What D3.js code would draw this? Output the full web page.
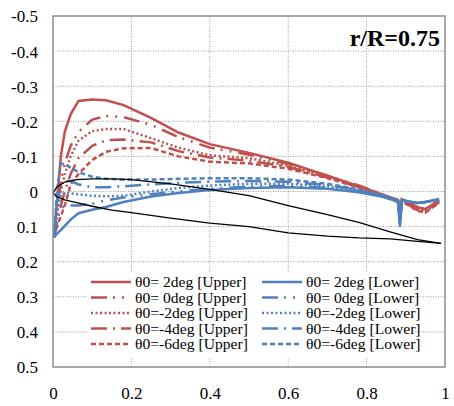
<!DOCTYPE html>
<html>
<head>
<meta charset="utf-8">
<script src="https://cdn.jsdelivr.net/npm/d3@7"></script>
<style>
  body { margin: 0; background: #fff; }
  svg text { font-family: "Liberation Serif", "Times New Roman", serif; fill: #000; }
</style>
</head>
<body>
<svg id="chart" width="454" height="406"></svg>
<script>
// chordwise stations shared by all pressure series
var xStations = [0.003, 0.01, 0.02, 0.03, 0.045, 0.065, 0.1, 0.135, 0.18, 0.25, 0.32, 0.4,
                 0.5, 0.6, 0.7, 0.78, 0.84, 0.88, 0.885, 0.89, 0.93, 0.95, 0.985];

// upper surface
var upper2  = [0.13, 0.03, -0.10, -0.17, -0.22, -0.258, -0.262, -0.26, -0.246, -0.21, -0.168, -0.135,
               -0.11, -0.082, -0.045, -0.015, 0.008, 0.024, 0.075, 0.022, 0.045, 0.05, 0.025];
var upper0  = [0.13, 0.06, -0.03, -0.08, -0.13, -0.17, -0.205, -0.215, -0.212, -0.19, -0.155, -0.125,
               -0.105, -0.078, -0.045, -0.017, 0.008, 0.025, 0.07, 0.023, 0.045, 0.052, 0.027];
var upperM2 = [0.13, 0.07, 0.0, -0.05, -0.10, -0.145, -0.172, -0.178, -0.178, -0.152, -0.125, -0.103,
               -0.095, -0.073, -0.042, -0.015, 0.01, 0.027, 0.07, 0.025, 0.05, 0.056, 0.028];
var upperM4 = [0.13, 0.09, 0.04, 0.0, -0.05, -0.095, -0.13, -0.146, -0.148, -0.14, -0.115, -0.097,
               -0.088, -0.07, -0.04, -0.013, 0.012, 0.03, 0.07, 0.027, 0.053, 0.06, 0.03];
var upperM6 = [0.13, 0.10, 0.07, 0.04, -0.02, -0.05, -0.09, -0.113, -0.123, -0.124, -0.10, -0.085,
               -0.08, -0.065, -0.038, -0.012, 0.012, 0.03, 0.065, 0.028, 0.055, 0.06, 0.032];

// lower surface
var lower2  = [0.13, 0.12, 0.11, 0.098, 0.08, 0.062, 0.052, 0.044, 0.03, 0.014, 0.004, -0.004,
               -0.01, -0.012, -0.008, 0.002, 0.015, 0.028, 0.10, 0.025, 0.033, 0.03, 0.022];
var lower0  = [0.13, 0.08, 0.05, 0.04, 0.04, 0.04, 0.035, 0.025, 0.017, 0.008, 0.0, -0.008,
               -0.014, -0.016, -0.01, 0.0, 0.013, 0.027, 0.095, 0.025, 0.033, 0.03, 0.022];
var lowerM2 = [0.13, 0.05, 0.01, 0.005, 0.005, 0.008, 0.012, 0.014, 0.012, 0.0, -0.01, -0.017,
               -0.022, -0.022, -0.015, -0.003, 0.012, 0.026, 0.09, 0.025, 0.033, 0.03, 0.023];
var lowerM4 = [0.13, 0.03, -0.02, -0.03, -0.03, -0.02, -0.012, -0.012, -0.015, -0.02, -0.025, -0.028,
               -0.03, -0.028, -0.018, -0.004, 0.012, 0.026, 0.09, 0.025, 0.033, 0.03, 0.023];
var lowerM6 = [0.13, 0.0, -0.08, -0.078, -0.068, -0.055, -0.042, -0.036, -0.034, -0.034, -0.036, -0.038,
               -0.038, -0.034, -0.022, -0.006, 0.01, 0.025, 0.088, 0.025, 0.033, 0.03, 0.024];

// blade section outline
var foilX     = [0, 0.01, 0.03, 0.06, 0.1, 0.15, 0.2, 0.3, 0.4, 0.5, 0.6, 0.7, 0.78, 0.86, 0.93, 0.99];
var foilUpper = [0.004, -0.013, -0.027, -0.034, -0.036, -0.036, -0.034, -0.022, -0.006, 0.012, 0.04, 0.066, 0.088, 0.115, 0.137, 0.148];
var foilLower = [0.004, 0.015, 0.024, 0.032, 0.042, 0.053, 0.06, 0.076, 0.09, 0.1, 0.118, 0.127, 0.132, 0.135, 0.142, 0.148];

var xTicks = [0, 0.2, 0.4, 0.6, 0.8, 1];
var yTicks = [-0.5, -0.4, -0.3, -0.2, -0.1, 0, 0.1, 0.2, 0.3, 0.4, 0.5];

var RED = '#C0504D', BLUE = '#4F81BD';
var dashes = {
    solid: null,
    dashDotDot: '16,6,2,7,2,7',
    dotted: '2,2.5',
    dashDot: '16,6,2,6',
    dashed: '5,3'
};

var series = [
    {name: 'θ0= 2deg [Upper]', values: upper2,  color: RED,  dash: dashes.solid},
    {name: 'θ0= 0deg [Upper]', values: upper0,  color: RED,  dash: dashes.dashDotDot},
    {name: 'θ0=-2deg [Upper]', values: upperM2, color: RED,  dash: dashes.dotted},
    {name: 'θ0=-4deg [Upper]', values: upperM4, color: RED,  dash: dashes.dashDot},
    {name: 'θ0=-6deg [Upper]', values: upperM6, color: RED,  dash: dashes.dashed},
    {name: 'θ0= 2deg [Lower]', values: lower2,  color: BLUE, dash: dashes.solid},
    {name: 'θ0= 0deg [Lower]', values: lower0,  color: BLUE, dash: dashes.dashDotDot},
    {name: 'θ0=-2deg [Lower]', values: lowerM2, color: BLUE, dash: dashes.dotted},
    {name: 'θ0=-4deg [Lower]', values: lowerM4, color: BLUE, dash: dashes.dashDot},
    {name: 'θ0=-6deg [Lower]', values: lowerM6, color: BLUE, dash: dashes.dashed}
];

var plot = {left: 53, right: 445, top: 16, bottom: 367};
var svg = d3.select('#chart');

var x = d3.scaleLinear().domain([0, 1]).range([plot.left, plot.right]);
var y = d3.scaleLinear().domain([-0.5, 0.5]).range([plot.top, plot.bottom]);

// grid
svg.append('g').selectAll('line')
    .data(yTicks.slice(1, -1))
    .enter().append('line')
    .attr('x1', plot.left).attr('x2', plot.right)
    .attr('y1', function (d) { return y(d); }).attr('y2', function (d) { return y(d); })
    .attr('stroke', '#9a9a9a').attr('stroke-width', 1).attr('stroke-dasharray', '1,1.5');
svg.append('g').selectAll('line')
    .data(xTicks.slice(1, -1))
    .enter().append('line')
    .attr('y1', plot.top).attr('y2', plot.bottom)
    .attr('x1', function (d) { return x(d); }).attr('x2', function (d) { return x(d); })
    .attr('stroke', '#9a9a9a').attr('stroke-width', 1).attr('stroke-dasharray', '1,1.5');

// axes labels
var yAxis = d3.axisLeft(y).tickValues(yTicks).tickSize(0).tickPadding(15)
    .tickFormat(function (d) { return d === 0 ? '0' : d.toFixed(1); });
var gy = svg.append('g').attr('transform', 'translate(' + plot.left + ',0)').call(yAxis);
gy.select('.domain').remove();
gy.selectAll('text').style('font-size', '17px').attr('dy', '0.35em');

var xAxis = d3.axisBottom(x).tickValues(xTicks).tickSize(0).tickPadding(20)
    .tickFormat(function (d) { return (d === 0 || d === 1) ? String(d) : d.toFixed(1); });
var gx = svg.append('g').attr('transform', 'translate(0,' + plot.bottom + ')').call(xAxis);
gx.select('.domain').remove();
gx.selectAll('text').style('font-size', '17px');

// series
var line = d3.line()
    .x(function (d) { return x(d[0]); })
    .y(function (d) { return y(d[1]); });

var lines = svg.append('g');
series.forEach(function (s) {
    lines.append('path')
        .datum(xStations.map(function (xv, i) { return [xv, s.values[i]]; }))
        .attr('d', line)
        .attr('fill', 'none')
        .attr('stroke', s.color)
        .attr('stroke-width', 2.5)
        .attr('stroke-dasharray', s.dash);
});

// blade section
[foilUpper, foilLower].forEach(function (surf) {
    lines.append('path')
        .datum(foilX.map(function (xv, i) { return [xv, surf[i]]; }))
        .attr('d', line)
        .attr('fill', 'none')
        .attr('stroke', '#000')
        .attr('stroke-width', 1.3);
});

// plot frame
svg.append('rect')
    .attr('x', plot.left).attr('y', plot.top)
    .attr('width', plot.right - plot.left).attr('height', plot.bottom - plot.top)
    .attr('fill', 'none').attr('stroke', '#8c8c8c').attr('stroke-width', 1.5);

// title
svg.append('text')
    .attr('x', 440).attr('y', 46)
    .attr('text-anchor', 'end')
    .style('font-size', '24px').style('font-weight', 'bold')
    .text('r/R=0.75');

// legend
var legend = svg.append('g');
legend.append('rect')
    .attr('x', 88).attr('y', 272).attr('width', 327).attr('height', 85)
    .attr('fill', '#fff');
var colX = [91, 262], rowY0 = 282, rowH = 15.5;
series.forEach(function (s, i) {
    var col = Math.floor(i / 5), row = i % 5;
    var lx = colX[col], ly = rowY0 + row * rowH;
    legend.append('line')
        .attr('x1', lx).attr('x2', lx + 40)
        .attr('y1', ly).attr('y2', ly)
        .attr('stroke', s.color).attr('stroke-width', 2.5)
        .attr('stroke-dasharray', s.dash);
    legend.append('text')
        .attr('x', lx + 44).attr('y', ly + 5)
        .style('font-size', '15.6px')
        .text(s.name);
});
</script>
</body>
</html>
